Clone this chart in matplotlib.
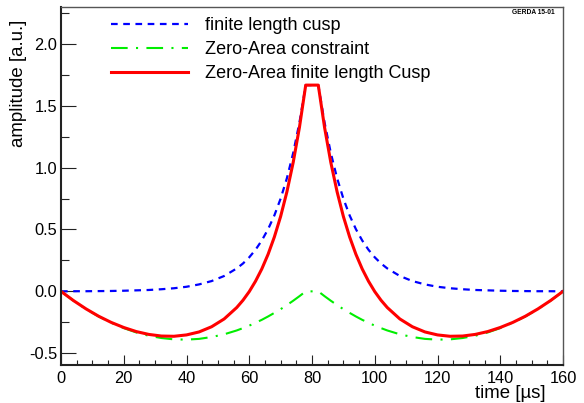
import matplotlib
matplotlib.use("Agg")
from matplotlib import pyplot as plt
from matplotlib.ticker import MultipleLocator

plt.rcParams['font.family'] = ['Liberation Sans', 'DejaVu Sans']

# time axis [us]
t = [0, 4, 8, 12, 16, 20, 24, 28, 32, 36, 40, 44, 48, 52, 56, 58, 60, 62, 64, 66,
     68, 70, 72, 74, 76, 78, 82, 84, 86, 88, 90, 92, 94, 96, 98, 100, 102, 104,
     108, 112, 116, 120, 124, 128, 132, 136, 140, 144, 148, 152, 156, 160]

# finite length cusp
cusp = [0.0, 0.001, 0.001, 0.002, 0.003, 0.005, 0.008, 0.011, 0.017, 0.025, 0.037,
        0.056, 0.083, 0.124, 0.185, 0.225, 0.275, 0.336, 0.411, 0.502, 0.613, 0.749,
        0.914, 1.117, 1.364, 1.666,
        1.666, 1.364, 1.117, 0.914, 0.749, 0.613, 0.502, 0.411, 0.336, 0.275, 0.225,
        0.185, 0.124, 0.083, 0.056, 0.037, 0.025, 0.017, 0.011, 0.008, 0.005, 0.003,
        0.002, 0.001, 0.001, 0.0]

# zero-area constraint
zac = [0.0, -0.076, -0.144, -0.203, -0.254, -0.297, -0.332, -0.359, -0.377, -0.388,
       -0.390, -0.384, -0.369, -0.347, -0.316, -0.297, -0.277, -0.254, -0.230, -0.203,
       -0.174, -0.144, -0.111, -0.076, -0.039, 0.0,
       0.0, -0.039, -0.076, -0.111, -0.144, -0.174, -0.203, -0.230, -0.254, -0.277,
       -0.297, -0.316, -0.347, -0.369, -0.384, -0.390, -0.388, -0.377, -0.359, -0.332,
       -0.297, -0.254, -0.203, -0.144, -0.076, 0.0]

# zero-area finite length cusp
zac_cusp = [0.0, -0.075, -0.142, -0.201, -0.251, -0.292, -0.325, -0.348, -0.361, -0.363,
            -0.352, -0.328, -0.286, -0.223, -0.131, -0.072, -0.002, 0.082, 0.181, 0.299,
            0.439, 0.605, 0.804, 1.041, 1.325, 1.666,
            1.666, 1.325, 1.041, 0.804, 0.605, 0.439, 0.299, 0.181, 0.082, -0.002,
            -0.072, -0.131, -0.223, -0.286, -0.328, -0.352, -0.363, -0.361, -0.348,
            -0.325, -0.292, -0.251, -0.201, -0.142, -0.075, 0.0]

W, H = 584, 403
fig = plt.figure(figsize=(W / 100, H / 100), dpi=100)
ax = fig.add_axes([61 / W, 1 - 365 / H, 502 / W, 358 / H])

ax.plot(t, cusp, color='#0000ff', lw=1.6, dashes=(3, 2.5), label='finite length cusp')
ax.plot(t, zac, color='#00ee00', lw=1.5, dashes=(8, 4, 1, 4), label='Zero-Area constraint')
ax.plot(t, zac_cusp, color='#ff0000', lw=2.2, label='Zero-Area finite length Cusp')

ax.set_xlim(0, 160)
ax.set_ylim(-0.595, 2.297)

ax.xaxis.set_major_locator(MultipleLocator(20))
ax.xaxis.set_minor_locator(MultipleLocator(5))
ax.yaxis.set_major_locator(MultipleLocator(0.5))
ax.yaxis.set_minor_locator(MultipleLocator(0.25))
ax.yaxis.set_major_formatter(plt.FuncFormatter(lambda v, p: '%.1f' % v))

ax.tick_params(axis='both', which='both', direction='in', width=0.8, colors='#222222',
               labelsize=11.8, labelcolor='black')
ax.tick_params(axis='x', which='major', length=7.2, pad=4.0)
ax.tick_params(axis='x', which='minor', length=3.6)
ax.tick_params(axis='y', which='major', length=10.8, pad=2.7)
ax.tick_params(axis='y', which='minor', length=5.5)

for side in ['left', 'bottom']:
    ax.spines[side].set_linewidth(1.5)
    ax.spines[side].set_color('#222222')
for side in ['top', 'right']:
    ax.spines[side].set_linewidth(1.0)
    ax.spines[side].set_color('#555555')

fig.text(19 / W, 1 - 20 / H, 'amplitude [a.u.]', rotation=90, ha='center', va='top',
         fontsize=13.4)
fig.text(546 / W, 1 - 397.5 / H, 'time [\u00b5s]', ha='right', va='baseline',
         fontsize=13.4)
fig.text(555 / W, 1 - 13 / H, 'GERDA 15-01', ha='right', va='center', fontsize=4.8,
         fontweight='bold')

ax.legend(loc='upper left', bbox_to_anchor=(111 / W, 1 - 17.5 / H),
          bbox_transform=fig.transFigure, frameon=False, fontsize=13,
          handlelength=4.26, handletextpad=0.94, labelspacing=0.38,
          borderpad=0, borderaxespad=0)

fig.savefig('out.png', dpi=100)
